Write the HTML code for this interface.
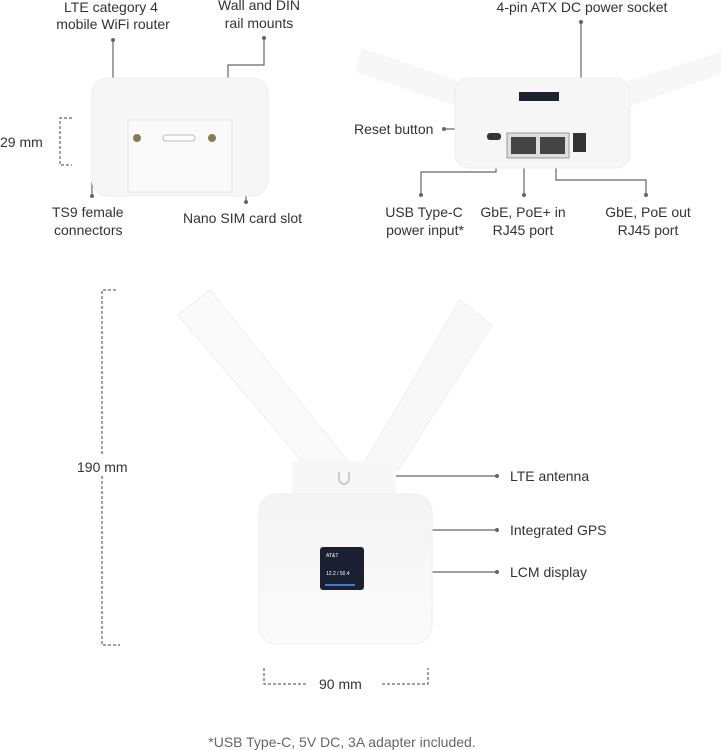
<!DOCTYPE html>
<html><head><meta charset="utf-8"><style>
html,body{margin:0;padding:0;background:#fff;}
svg{display:block;font-family:"Liberation Sans",sans-serif;}
text{fill:#333;font-size:14px;}
</style></head><body>
<svg width="721" height="750" viewBox="0 0 721 750" xmlns="http://www.w3.org/2000/svg">
<defs>
<linearGradient id="g1" x1="0" y1="0" x2="0" y2="1"><stop offset="0" stop-color="#f4f4f4"/><stop offset="1" stop-color="#fbfbfb"/></linearGradient>
</defs>
<g stroke="#666" stroke-width="1.2" fill="none">
<line x1="113" y1="40" x2="113" y2="78"/>
<polyline points="264,38 264,65 228,65 228,88"/>
<polyline points="92,196 92,182 216,182 216,165"/>
<line x1="137" y1="165" x2="137" y2="182"/>
<polyline points="178,153 178,192 246,192 246,202"/>
<polyline points="72,118 60,118 60,165 72,165" stroke-dasharray="3,2"/>
<line x1="581" y1="22" x2="581" y2="122"/>
<line x1="444" y1="129" x2="494" y2="129"/>
<polyline points="496,150 496,172 421,172 421,195"/>
<line x1="524" y1="160" x2="524" y2="195"/>
<polyline points="556,160 556,180 646,180 646,195"/>
<polyline points="116,290 102,290 102,645 120,645" stroke-dasharray="3,2"/>
<line x1="396" y1="476" x2="497" y2="476"/>
<line x1="432" y1="530" x2="497" y2="530"/>
<line x1="367" y1="572" x2="497" y2="572"/>
<polyline points="264,668 264,684 306,684" stroke-dasharray="3,2"/>
<polyline points="382,684 428,684 428,668" stroke-dasharray="3,2"/>
</g>
<g fill="#666">
<circle cx="113" cy="40" r="2"/><circle cx="264" cy="38" r="2"/><circle cx="92" cy="196" r="2"/><circle cx="246" cy="202" r="2"/>
<circle cx="581" cy="22" r="2"/><circle cx="444" cy="129" r="2"/><circle cx="421" cy="195" r="2"/><circle cx="524" cy="195" r="2"/><circle cx="646" cy="195" r="2"/>
<circle cx="497" cy="476" r="2"/><circle cx="497" cy="530" r="2"/><circle cx="497" cy="572" r="2"/>
</g>
<rect x="92" y="78" width="176" height="118" rx="16" fill="#f6f6f6" stroke="#ececec"/>
<rect x="128" y="120" width="104" height="72" fill="#fafafa" stroke="#e6e6e6"/>
<rect x="163" y="135" width="32" height="6" rx="3" fill="#fff" stroke="#bbb"/>
<circle cx="137" cy="138" r="4" fill="#8a7a50"/><circle cx="212" cy="138" r="4" fill="#8a7a50"/>
<path d="M362,48 L462,82 L462,108 L355,72Z" fill="#f7f7f7"/>
<path d="M721,52 L625,82 L625,108 L721,74Z" fill="#f7f7f7"/>
<rect x="455" y="78" width="175" height="90" rx="14" fill="#f6f6f6" stroke="#ececec"/>
<rect x="519" y="92" width="40" height="9" fill="#1d2230"/>
<rect x="487" y="133" width="14" height="7" rx="3" fill="#333"/>
<rect x="507" y="133" width="62" height="25" fill="#ddd" stroke="#999"/>
<rect x="511" y="137" width="25" height="17" fill="#444"/><rect x="540" y="137" width="25" height="17" fill="#444"/>
<rect x="573" y="133" width="13" height="19" fill="#333"/>
<path d="M178,315 L210,290 L355,470 L318,480Z" fill="#fafafa" stroke="#eee"/>
<path d="M460,300 L492,325 L398,470 L360,470Z" fill="#f8f8f8" stroke="#eee"/>
<rect x="292" y="461" width="104" height="32" fill="#f7f7f7"/>
<path d="M339,472 v7 a5,5 0 0 0 10,0 v-7" stroke="#ccc" stroke-width="2" fill="none"/>
<rect x="259" y="494" width="173" height="150" rx="18" fill="url(#g1)" stroke="#eee"/>
<rect x="320" y="547" width="44" height="43" rx="3" fill="#1a2030"/>
<text x="326" y="557" style="font-size:5px;fill:#fff">AT&amp;T</text>
<text x="326" y="575" style="font-size:5px;fill:#fff">12.2 / 50.4</text>
<rect x="325" y="584" width="30" height="2" fill="#3a7fd5"/>
<rect x="74" y="455" width="58" height="20" fill="#fff"/>
<text x="111" y="12" text-anchor="middle">LTE category 4</text>
<text x="113" y="29" text-anchor="middle">mobile WiFi router</text>
<text x="259" y="10" text-anchor="middle">Wall and DIN</text>
<text x="259" y="28" text-anchor="middle">rail mounts</text>
<text x="0" y="147">29 mm</text>
<text x="52" y="217">TS9 female</text>
<text x="54" y="235">connectors</text>
<text x="183" y="223">Nano SIM card slot</text>
<text x="582" y="12" text-anchor="middle">4-pin ATX DC power socket</text>
<text x="354" y="134">Reset button</text>
<text x="424" y="217" text-anchor="middle">USB Type-C</text>
<text x="425" y="235" text-anchor="middle">power input*</text>
<text x="523" y="217" text-anchor="middle">GbE, PoE+ in</text>
<text x="523" y="235" text-anchor="middle">RJ45 port</text>
<text x="648" y="217" text-anchor="middle">GbE, PoE out</text>
<text x="648" y="235" text-anchor="middle">RJ45 port</text>
<text x="77" y="472">190 mm</text>
<text x="510" y="481">LTE antenna</text>
<text x="510" y="535">Integrated GPS</text>
<text x="510" y="577">LCM display</text>
<text x="319" y="689">90 mm</text>
<text x="342" y="747" text-anchor="middle" style="fill:#666">*USB Type-C, 5V DC, 3A adapter included.</text>
</svg>
</body></html>
